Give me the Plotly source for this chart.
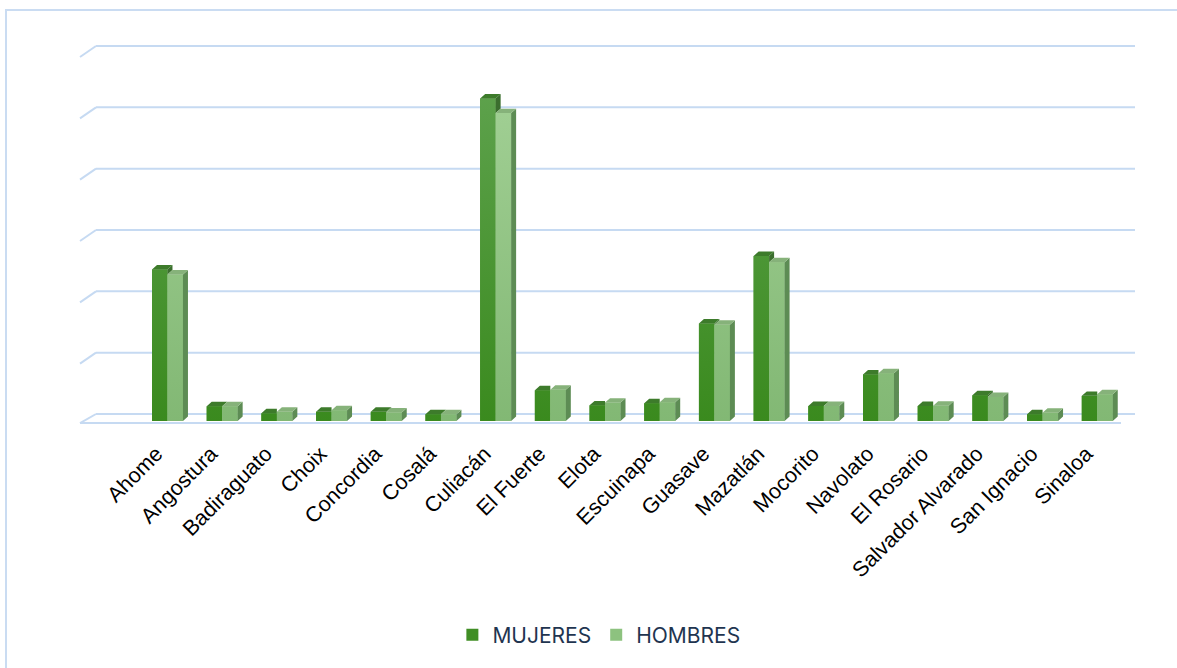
import plotly.graph_objects as go

municipios = ["Ahome", "Angostura", "Badiraguato", "Choix", "Concordia", "Cosalá",
              "Culiacán", "El Fuerte", "Elota", "Escuinapa", "Guasave", "Mazatlán",
              "Mocorito", "Navolato", "El Rosario", "Salvador Alvarado", "San Ignacio", "Sinaloa"]
mujeres = [24.7, 2.4, 1.25, 1.5, 1.5, 1.1, 52.6, 5.0, 2.55, 2.9, 15.9, 26.9,
           2.45, 7.6, 2.45, 4.2, 1.1, 4.1]
hombres = [23.9, 2.4, 1.5, 1.75, 1.4, 1.1, 50.2, 5.1, 3.0, 3.05, 15.7, 25.9,
           2.45, 7.8, 2.5, 3.9, 1.35, 4.35]
grid_vals = [0, 10, 20, 30, 40, 50, 60]

# geometry (category units / value units)
W = 0.283      # bar width
DX = 0.0914    # depth in x
DY = 0.73      # depth in y
S = 1.141      # back wall offset
idx = list(range(len(municipios)))

C_M = "#408e25"
C_H = "#8dc27f"
C_M_BOT, C_M_TOPC = "#3a8a1e", "#5ea24d"
C_H_BOT, C_H_TOPC = "#82b874", "#a2d095"
C_M_TOP = "#3d7b2b"
C_M_SIDE = "#3b6e2e"
C_H_TOP = "#86b27a"
C_H_SIDE = "#5d8c54"

fig = go.Figure()
fig.add_trace(go.Bar(x=idx, y=mujeres, name="MUJERES", width=W, offset=-W,
                     marker=dict(color=C_M, line=dict(width=0))))
fig.add_trace(go.Bar(x=idx, y=hombres, name="HOMBRES", width=W, offset=0,
                     marker=dict(color=C_H, line=dict(width=0))))


def poly_trace(xs, ys, color, grad=None):
    t = go.Scatter(x=xs, y=ys, fill="toself", fillcolor=color, mode="lines",
                   line=dict(width=0, color=color), showlegend=False, hoverinfo="skip")
    if grad:
        t.update(fillgradient=dict(type="vertical", start=0, stop=55,
                                   colorscale=[[0, grad[0]], [1, grad[1]]]))
    return t


mfx, mfy, hfx, hfy = [], [], [], []
mtx, mty, msx, msy = [], [], [], []
htx, hty, hsx, hsy = [], [], [], []
for i, m, h in zip(idx, mujeres, hombres):
    mfx += [i - W, i, i, i - W, i - W, None]
    mfy += [0, 0, m, m, 0, None]
    hfx += [i, i + W, i + W, i, i, None]
    hfy += [0, 0, h, h, 0, None]
    if h > m:
        mtx += [i - W, i, i, i - W + DX, i - W, None]
        mty += [m, m, m + DY, m + DY, m, None]
    else:
        mtx += [i - W, i, i + DX, i - W + DX, i - W, None]
        mty += [m, m, m + DY, m + DY, m, None]
        msx += [i, i, i + DX, i + DX, i, None]
        msy += [h, m, m + DY, h + DY, h, None]
    htx += [i, i + W, i + W + DX, i + DX, i, None]
    hty += [h, h, h + DY, h + DY, h, None]
    hsx += [i + W, i + W, i + W + DX, i + W + DX, i + W, None]
    hsy += [0, h, h + DY, DY, 0, None]

fig.add_trace(poly_trace(mfx, mfy, C_M, (C_M_BOT, C_M_TOPC)))
fig.add_trace(poly_trace(msx, msy, C_M_SIDE))
fig.add_trace(poly_trace(mtx, mty, C_M_TOP))
fig.add_trace(poly_trace(hfx, hfy, C_H, (C_H_BOT, C_H_TOPC)))
fig.add_trace(poly_trace(hsx, hsy, C_H_SIDE))
fig.add_trace(poly_trace(htx, hty, C_H_TOP))

GRID = "#c6daf2"
XL = (80 - 96) / 1039
shapes = []
for v in grid_vals:
    shapes.append(dict(type="line", xref="paper", yref="y", x0=0, x1=1, y0=v + S, y1=v + S,
                       line=dict(color=GRID, width=2), layer="below"))
    y_front = -0.33 if v == 0 else v + S - 1.79
    shapes.append(dict(type="line", xref="paper", yref="y", x0=XL, x1=0, y0=y_front, y1=v + S,
                       line=dict(color=GRID, width=2), layer="below"))
shapes.append(dict(type="line", xref="paper", yref="y", x0=XL, x1=(1121 - 96) / 1039,
                   y0=-0.33, y1=-0.33, line=dict(color=GRID, width=2), layer="below"))
shapes.append(dict(type="rect", xref="paper", yref="paper", x0=(6 - 96) / 1039, x1=1.08,
                   y0=-0.8, y1=(430 - 10) / 390, line=dict(color="#cadcf2", width=2),
                   fillcolor="rgba(0,0,0,0)", layer="below"))

fig.update_layout(
    width=1177, height=668,
    margin=dict(l=96, r=42, t=40, b=238),
    paper_bgcolor="white", plot_bgcolor="white",
    barmode="overlay",
    shapes=shapes,
    showlegend=True,
    legend=dict(orientation="h", x=0.484, xanchor="center", y=-0.526, yanchor="middle",
                font=dict(family="Inter, Open Sans, sans-serif", size=21, color="#1f3550"),
                itemwidth=30, traceorder="normal"),
    xaxis=dict(range=[-1.307, 17.69], tickmode="array", tickvals=idx, ticktext=municipios,
               tickangle=-45, showgrid=False, zeroline=False, showline=False, ticks="",
               ticklabelshift=-11, ticklabelstandoff=6,
               tickfont=dict(family="Liberation Sans, Arial, sans-serif", size=21.5, color="#000000")),
    yaxis=dict(range=[-1.467, 62.12], showgrid=False, zeroline=False, showline=False,
               showticklabels=False, ticks=""),
)

fig.write_html("out.html", config={"displayModeBar": False},
               post_script="document.body.style.margin='0px';document.body.style.overflow='hidden';")
